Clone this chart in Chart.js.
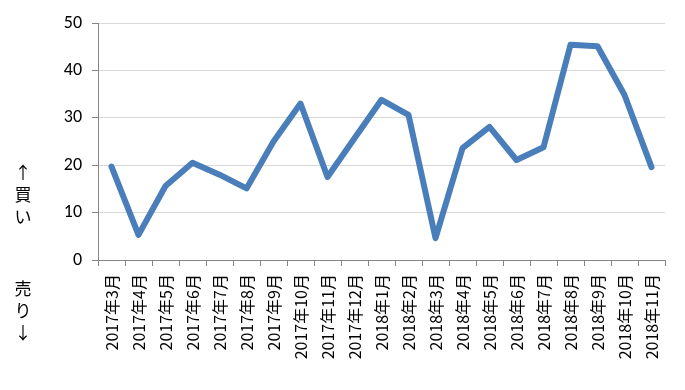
<!DOCTYPE html>
<html>
<head>
<meta charset="utf-8">
<script src="https://cdn.jsdelivr.net/npm/chart.js@4.4.1/dist/chart.umd.min.js"></script>
<style>
    body { margin: 0; background: #fff; }
    #wrap { position: relative; width: 685px; height: 390px; }
    .side {
        position: absolute; left: 14px; width: 18px;
        font-family: "Noto Sans CJK JP", sans-serif; font-size: 17px;
        line-height: 22px; text-align: center; color: #000;
    }
</style>
</head>
<body>
<div id="wrap">
    <canvas id="lineChart" width="685" height="390"></canvas>
    <div class="side" style="top:161px;">↑<br>買<br>い</div>
    <div class="side" style="top:277px;">売<br>り<br>↓</div>
</div>
<script>
const months = ["2017年3月", "2017年4月", "2017年5月", "2017年6月", "2017年7月", "2017年8月",
    "2017年9月", "2017年10月", "2017年11月", "2017年12月", "2018年1月", "2018年2月",
    "2018年3月", "2018年4月", "2018年5月", "2018年6月", "2018年7月", "2018年8月",
    "2018年9月", "2018年10月", "2018年11月"];
const values = [19.7, 5.3, 15.6, 20.5, 18.0, 15.1, 25.0, 33.0, 17.5, 25.7, 33.8, 30.6,
    4.6, 23.6, 28.1, 21.1, 23.8, 45.4, 45.1, 34.8, 19.6];
const yTicks = [0, 10, 20, 30, 40, 50];

const ctx = document.getElementById("lineChart").getContext("2d");

const chart = new Chart(ctx, {
    type: 'line',
    data: {
        labels: months,
        datasets: [{
            data: values,
            borderColor: '#4a7ebb',
            borderWidth: 6,
            borderJoinStyle: 'round',
            borderCapStyle: 'round',
            tension: 0,
            fill: false,
            pointRadius: 0,
            pointHoverRadius: 0
        }]
    },
    options: {
        responsive: false,
        animation: false,
        layout: { padding: { top: 23, right: 20, left: 0, bottom: 0 } },
        plugins: { legend: { display: false }, tooltip: { enabled: false } },
        scales: {
            x: {
                offset: true,
                grid: {
                    offset: true,
                    drawOnChartArea: false,
                    drawTicks: true,
                    tickLength: 6,
                    tickColor: '#868686'
                },
                border: { color: '#868686', width: 1 },
                ticks: {
                    autoSkip: false,
                    maxRotation: 90,
                    minRotation: 90,
                    padding: 8,
                    color: '#000',
                    font: { family: '"Noto Sans CJK JP"', size: 16 }
                },
                afterFit: function(scale) { scale.height = 130; }
            },
            y: {
                min: 0,
                max: 50,
                afterBuildTicks: function(scale) {
                    scale.ticks = yTicks.map(v => ({ value: v }));
                },
                grid: {
                    color: '#d9d9d9',
                    tickColor: '#868686',
                    tickLength: 6
                },
                border: { color: '#868686', width: 1 },
                ticks: {
                    padding: 10,
                    color: '#000',
                    font: { family: 'Carlito, "Open Sans", sans-serif', size: 18 }
                },
                afterFit: function(scale) { scale.width = 98; }
            }
        }
    }
});
</script>
</body>
</html>
